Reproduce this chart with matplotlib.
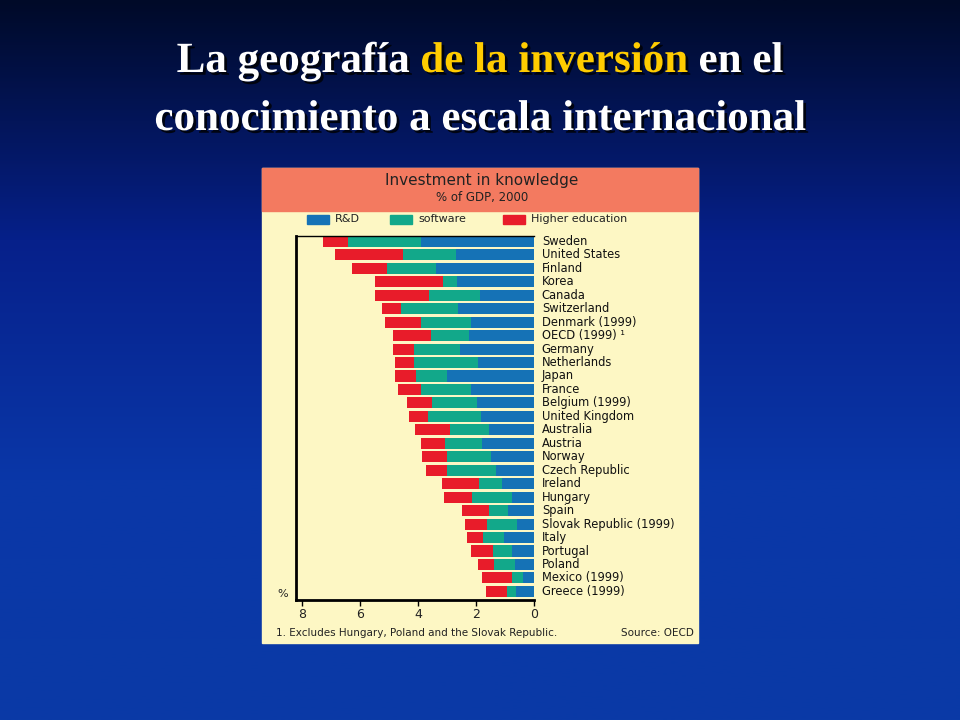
import matplotlib
matplotlib.use("Agg")
import matplotlib.pyplot as plt
import numpy as np
from matplotlib.patches import Rectangle
import matplotlib.patheffects as pe
from matplotlib.colors import LinearSegmentedColormap

countries = ["Sweden","United States","Finland","Korea","Canada","Switzerland",
 "Denmark (1999)","OECD (1999) \u00b9","Germany","Netherlands","Japan","France",
 "Belgium (1999)","United Kingdom","Australia","Austria","Norway","Czech Republic",
 "Ireland","Hungary","Spain","Slovak Republic (1999)","Italy","Portugal","Poland",
 "Mexico (1999)","Greece (1999)"]
rd = [3.90,2.68,3.39,2.65,1.85,2.63,2.17,2.25,2.54,1.93,2.99,2.17,1.95,1.83,
      1.54,1.80,1.49,1.32,1.11,0.75,0.91,0.58,1.04,0.75,0.64,0.38,0.63]
sw = [2.50,1.82,1.68,0.48,1.77,1.95,1.73,1.31,1.61,2.20,1.06,1.73,1.58,1.81,
      1.36,1.28,1.50,1.67,0.77,1.39,0.63,1.05,0.70,0.65,0.73,0.39,0.31]
he = [0.88,2.36,1.20,2.34,1.85,0.65,1.22,1.29,0.70,0.65,0.73,0.78,0.83,0.68,
      1.20,0.82,0.86,0.72,1.28,0.97,0.94,0.76,0.57,0.77,0.56,1.03,0.71]
ticks = [8,6,4,2,0]

W,H = 960,720
fig = plt.figure(figsize=(9.6,7.2), dpi=100)
bg = fig.add_axes([0,0,1,1]); bg.set_axis_off()
grad = np.linspace(0,1,256)[:,None]
cm = LinearSegmentedColormap.from_list("b", ["#000a28","#06208a","#0a37a8","#0a3aa6"])
bg.imshow(grad, aspect="auto", cmap=cm, extent=[0,1,0,1], origin="upper")
bg.set_xlim(0,1); bg.set_ylim(0,1)

def fx(x): return x/W
def fy(y): return 1-y/H
sh = [pe.withSimplePatchShadow(offset=(2,-2), shadow_rgbFace=(0,0,0), alpha=0.8)]
kw = dict(fontsize=31, fontweight="bold", family="Liberation Serif", va="center", path_effects=sh)
parts = [("La geografía ", "#ffffff"), ("de la inversión", "#ffcc00"), (" en el", "#ffffff")]
r = fig.canvas.get_renderer()
widths = []
tmp = []
for s,c in parts:
    t = fig.text(0, fy(62), s, color=c, **kw); tmp.append(t)
    widths.append(t.get_window_extent(r).width)
x0 = (W - sum(widths))/2
for t,w in zip(tmp,widths):
    t.set_x(x0/W); x0 += w
fig.text(0.5, fy(120), "conocimiento a escala internacional", color="white", ha="center", **kw)

bg.add_patch(Rectangle((fx(262), fy(643)), fx(698-262), (643-168)/H, color="#fdf7c4", zorder=2))
bg.add_patch(Rectangle((fx(262), fy(211)), fx(698-262), (211-168)/H, color="#f37a60", zorder=3))
fig.text(fx(482), fy(181), "Investment in knowledge", ha="center", va="center", fontsize=11, color="#222")
fig.text(fx(482), fy(198), "% of GDP, 2000", ha="center", va="center", fontsize=8.5, color="#222")
cb, cg, cr = "#1572b6", "#12a88a", "#e81c2a"
for xx, c, lab in [(307, cb, "R&D"), (390, cg, "software"), (503, cr, "Higher education")]:
    bg.add_patch(Rectangle((fx(xx), fy(224)), fx(22), 9/H, color=c, zorder=4))
    fig.text(fx(xx+28), fy(219.5), lab, va="center", fontsize=8, color="#222")

ax = fig.add_axes([fx(296), fy(600), fx(534-296), (600-236)/H])
ax.set_facecolor("#fdf7c4")
y = np.arange(len(countries))
rd_a, sw_a, he_a = map(np.array, (rd, sw, he))
ax.barh(y, rd_a, height=0.82, color=cb)
ax.barh(y, sw_a, left=rd_a, height=0.82, color=cg)
ax.barh(y, he_a, left=rd_a+sw_a, height=0.82, color=cr)
ax.set_xlim(8.2, 0)
ax.set_ylim(len(countries)-1+0.64, -0.4)
ax.set_yticks([])
ax.set_xticks(ticks)
ax.set_xticklabels([str(t) for t in ticks], fontsize=9, color="#222")
ax.tick_params(axis="x", length=4, width=1, direction="out", pad=2)
for s in ["left","bottom"]:
    ax.spines[s].set_linewidth(2)
ax.spines["top"].set_linewidth(1)
ax.spines["right"].set_visible(False)
for i, c in enumerate(countries):
    ax.text(-0.27, i, c, va="center", ha="left", fontsize=8.3, color="#111", clip_on=False)
fig.text(fx(277), fy(594), "%", fontsize=8, color="#222", va="center")
fig.text(fx(276), fy(633), "1. Excludes Hungary, Poland and the Slovak Republic.", fontsize=7.5, color="#222", va="center")
fig.text(fx(694), fy(633), "Source: OECD", fontsize=7.5, color="#222", va="center", ha="right")
fig.savefig("out.png", dpi=100)
